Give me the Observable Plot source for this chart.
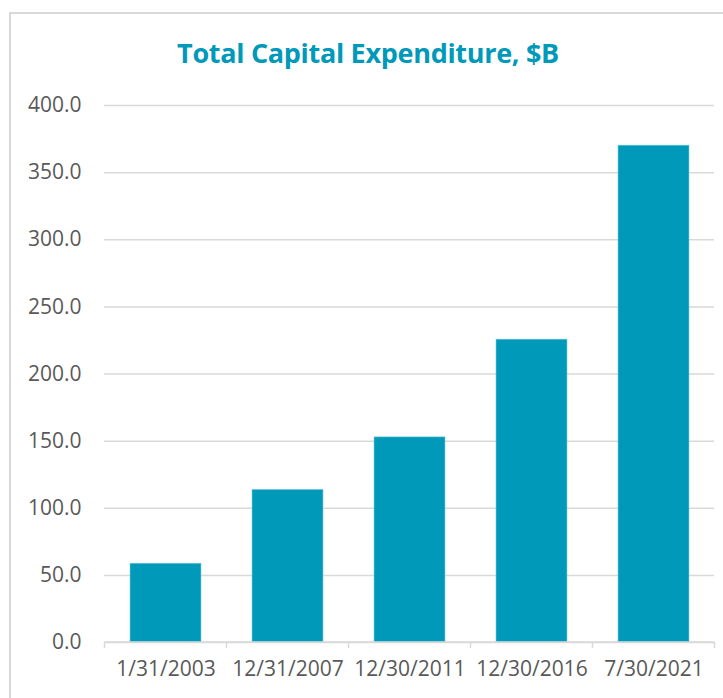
<!DOCTYPE html>
<html>
<head>
<meta charset="utf-8">
<script src="https://cdn.jsdelivr.net/npm/d3@7"></script>
<script src="https://cdn.jsdelivr.net/npm/@observablehq/plot@0.6"></script>
<style>
  html, body { margin: 0; padding: 0; background: #fff; width: 723px; height: 698px; overflow: hidden; }
  #frame { position: absolute; left: 9px; top: 12px; width: 800px; height: 800px; border: 2px solid #d9d9d9; box-sizing: border-box; }
  #title { position: absolute; left: 0; top: 39px; width: 736px; text-align: center; font-family: "Open Sans", sans-serif; font-weight: 700; font-size: 27px; line-height: 27px; color: #0099BA; letter-spacing: -0.3px; }
  #chart { position: absolute; left: 0; top: 80px; }
</style>
</head>
<body>
<div id="frame"></div>
<div id="title">Total Capital Expenditure, $B</div>
<div id="chart"></div>
<script>
const categories = ["1/31/2003", "12/31/2007", "12/30/2011", "12/30/2016", "7/30/2021"];
const values = [58.7, 113.7, 152.8, 225.6, 370.1];
const yTicks = [0, 50, 100, 150, 200, 250, 300, 350, 400];

const data = categories.map((c, i) => ({date: c, value: values[i]}));

const boundaryTicks = (index, scales, values, dimensions) => {
  const x = scales.x, y = scales.y;
  const step = x(categories[1]) - x(categories[0]);
  const bw = x.bandwidth ? x.bandwidth() : step * 0.58;
  const half = (step - bw) / 2;
  const xs = categories.map(c => x(c) - half);
  xs.push(x(categories[categories.length - 1]) + bw + half);
  const y0 = y(0);
  const g = d3.create("svg:g");
  for (const px of xs) {
    g.append("line")
      .attr("x1", px).attr("x2", px)
      .attr("y1", y0).attr("y2", y0 + 6)
      .attr("stroke", "#d9d9d9").attr("stroke-width", 1.5);
  }
  g.append("line")
    .attr("x1", xs[0]).attr("x2", xs[xs.length - 1])
    .attr("y1", y0).attr("y2", y0)
    .attr("stroke", "#d9d9d9").attr("stroke-width", 1.5);
  return g.node();
};

const chart = Plot.plot({
  width: 723,
  height: 618,
  marginTop: 25,
  marginBottom: 56,
  marginLeft: 104,
  marginRight: 9,
  style: { fontFamily: "Open Sans, sans-serif", fontSize: "21px", color: "#595959", background: "transparent", overflow: "visible" },
  x: { domain: categories, paddingInner: 0.42, paddingOuter: 0.21, label: null },
  y: { domain: [0, 400], label: null },
  marks: [
    Plot.ruleY(yTicks, { stroke: "#d9d9d9", strokeWidth: 1.5 }),
    Plot.barY(data, { x: "date", y: "value", fill: "#0099BA", stroke: "#7fd0e0", strokeWidth: 0.6 }),
    boundaryTicks,
    Plot.axisY({ ticks: yTicks, tickFormat: d => d.toFixed(1), tickSize: 0, tickPadding: 23, fill: "#595959", fontSize: 21 }),
    Plot.axisX({ tickSize: 0, tickPadding: 19, fill: "#595959", fontSize: 21 })
  ]
});
document.getElementById("chart").appendChild(chart);
</script>
</body>
</html>
